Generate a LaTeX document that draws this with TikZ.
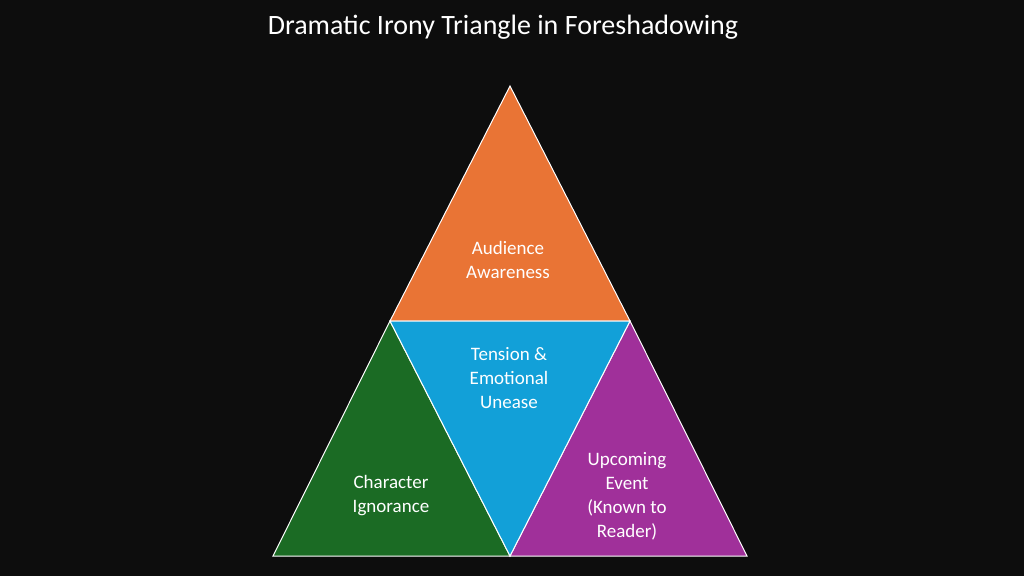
\documentclass[tikz,border=0pt]{standalone}
\usepackage{fontspec}
\setmainfont{Carlito}
\usetikzlibrary{positioning}
\definecolor{bgdark}{HTML}{0D0D0D}
\definecolor{awareorange}{HTML}{E97435}
\definecolor{tensionblue}{HTML}{12A0D8}
\definecolor{ignorgreen}{HTML}{1B6B24}
\definecolor{eventpurple}{HTML}{A0309A}
\begin{document}
\begin{tikzpicture}[x=1pt,y=-1pt]

        % Define styles
        \tikzset{piece/.style={draw=white, line width=1pt, line join=miter},
                 label/.style={text=white, align=center, font=\fontsize{19}{24}\selectfont}}

        % Background
        \fill[bgdark] (0,0) rectangle (1024,576);
        \useasboundingbox (0,0) rectangle (1024,576);

        % Corners
        \coordinate (apex) at (510,86);
        \coordinate (midl) at (390,321);
        \coordinate (midr) at (630,321);
        \coordinate (botl) at (273,556);
        \coordinate (botm) at (510,556);
        \coordinate (botr) at (747,556);

        % Pieces
        \filldraw[piece, fill=awareorange] (apex) -- (midr) -- (midl) -- cycle;
        \filldraw[piece, fill=ignorgreen] (midl) -- (botm) -- (botl) -- cycle;
        \filldraw[piece, fill=eventpurple] (midr) -- (botr) -- (botm) -- cycle;
        \filldraw[piece, fill=tensionblue] (midl) -- (midr) -- (botm) -- cycle;

        % Labels
        \node (title) [text=white, font=\fontsize{28}{32}\selectfont] at (503,27) {Dramatic Irony Triangle in Foreshadowing};
        \node (awareness) [label] at (508,260) {Audience\\Awareness};
        \node (tension) [label] at (509,378) {Tension \&\\Emotional\\Unease};
        \node (ignorance) [label] at (391,496) {Character\\Ignorance};
        \node (event) [label] at (627,496) {Upcoming\\Event\\(Known to\\Reader)};

      \end{tikzpicture}
\end{document}
